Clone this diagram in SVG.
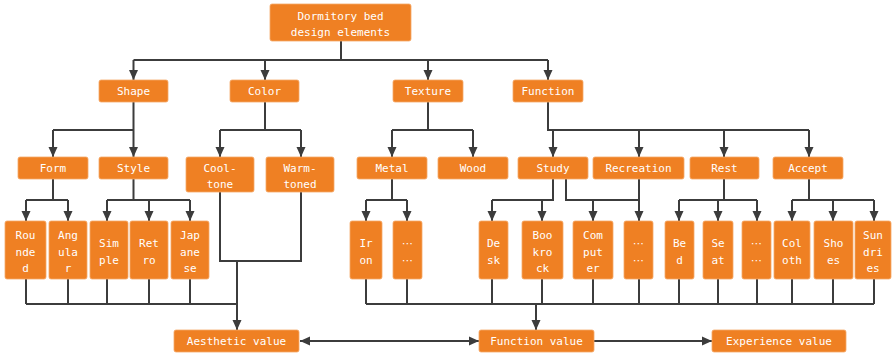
<svg xmlns="http://www.w3.org/2000/svg" width="892" height="357" viewBox="0 0 892 357">
<defs>
<style>
.b{fill:#EF8023;stroke:#F5A868;stroke-width:0.8}
.t{fill:#fff;font-family:"DejaVu Sans Mono","Liberation Mono",monospace;font-size:11px;text-anchor:middle}
.d{font-family:"DejaVu Sans","Liberation Sans",sans-serif}
.c{fill:none;stroke:#3C3C3C;stroke-width:2}
.a{marker-end:url(#ah)}
</style>
<marker id="ah" markerUnits="userSpaceOnUse" markerWidth="10" markerHeight="10" refX="10" refY="4.5" orient="auto-start-reverse" viewBox="0 0 10 9">
<path d="M0,0 L10,4.5 L0,9 z" fill="#3C3C3C"/>
</marker>
</defs>
<rect width="892" height="357" fill="#fff"/>
<g id="connectors">
<path class="c" d="M341,41 V60 M133.5,60 H548"/>
<path class="c a" d="M133.5,60 V80"/>
<path class="c a" d="M265,60 V80"/>
<path class="c a" d="M428,60 V80"/>
<path class="c a" d="M548,60 V80"/>
<path class="c" d="M133.5,102 V130 M53,130 H133.5"/>
<path class="c a" d="M53,130 V157"/>
<path class="c a" d="M133.5,130 V157"/>
<path class="c" d="M265,102 V130 M220,130 H301"/>
<path class="c a" d="M220,130 V157"/>
<path class="c a" d="M301,130 V157"/>
<path class="c" d="M428,102 V130 M392,130 H473"/>
<path class="c a" d="M392,130 V157"/>
<path class="c a" d="M473,130 V157"/>
<path class="c" d="M548,102 V130 H809"/>
<path class="c a" d="M553,130 V157"/>
<path class="c a" d="M639,130 V157"/>
<path class="c a" d="M724,130 V157"/>
<path class="c a" d="M809,130 V157"/>
<path class="c" d="M53,179 V200 M26,200 H68"/>
<path class="c a" d="M26,200 V221"/>
<path class="c a" d="M68,200 V221"/>
<path class="c" d="M133.5,179 V200 M107,200 H190"/>
<path class="c a" d="M107,200 V221"/>
<path class="c a" d="M149,200 V221"/>
<path class="c a" d="M190,200 V221"/>
<path class="c" d="M392,179 V200 M366,200 H407"/>
<path class="c a" d="M366,200 V221"/>
<path class="c a" d="M407,200 V221"/>
<path class="c" d="M553,179 V200 H492"/>
<path class="c a" d="M492,200 V221"/>
<path class="c a" d="M542,200 V221"/>
<path class="c" d="M566,179 V200 H639"/>
<path class="c a" d="M593,200 V221"/>
<path class="c a" d="M639,179 V221"/>
<path class="c" d="M724,179 V200 M679,200 H757"/>
<path class="c a" d="M679,200 V221"/>
<path class="c a" d="M718,200 V221"/>
<path class="c a" d="M757,200 V221"/>
<path class="c" d="M809,179 V200 M792,200 H874"/>
<path class="c a" d="M792,200 V221"/>
<path class="c a" d="M833,200 V221"/>
<path class="c a" d="M874,200 V221"/>
<path class="c" d="M26,279 V304 M68,279 V304 M107,279 V304 M149,279 V304 M190,279 V304 M26,304 H237"/>
<path class="c" d="M220,192 V261 H301 V192"/>
<path class="c a" d="M237,261 V330"/>
<path class="c" d="M366,279 V304 M407,279 V304 M492,279 V304 M542,279 V304 M593,279 V304 M639,279 V304 M679,279 V304 M718,279 V304 M757,279 V304 M792,279 V304 M833,279 V304 M874,279 V304 M366,304 H874"/>
<path class="c a" d="M536,304 V330"/>
<path class="c a" d="M300,341 H479" marker-start="url(#ah)"/>
<path class="c a" d="M594,341 H712"/>
</g>
<g id="root"><rect class="b" x="270" y="4" width="141" height="37" rx="2"/><text class="t" x="340.5" y="20">Dormitory bed</text><text class="t" x="340.5" y="36">design elements</text></g>
<g id="shape"><rect class="b" x="99" y="80" width="69" height="22" rx="2"/><text class="t" x="133.5" y="95">Shape</text></g>
<g id="color"><rect class="b" x="230" y="80" width="69" height="22" rx="2"/><text class="t" x="264.5" y="95">Color</text></g>
<g id="texture"><rect class="b" x="393" y="80" width="70" height="22" rx="2"/><text class="t" x="428" y="95">Texture</text></g>
<g id="function"><rect class="b" x="513" y="80" width="70" height="22" rx="2"/><text class="t" x="548" y="95">Function</text></g>
<g id="form"><rect class="b" x="18" y="157" width="70" height="22" rx="2"/><text class="t" x="53" y="172">Form</text></g>
<g id="style"><rect class="b" x="99" y="157" width="69" height="22" rx="2"/><text class="t" x="133.5" y="172">Style</text></g>
<g id="cooltone"><rect class="b" x="186" y="157" width="68" height="35" rx="2"/><text class="t" x="220" y="172">Cool-</text><text class="t" x="220" y="188">tone</text></g>
<g id="warmtoned"><rect class="b" x="266" y="157" width="68" height="35" rx="2"/><text class="t" x="300" y="172">Warm-</text><text class="t" x="300" y="188">toned</text></g>
<g id="metal"><rect class="b" x="357" y="157" width="70" height="22" rx="2"/><text class="t" x="392" y="172">Metal</text></g>
<g id="wood"><rect class="b" x="438" y="157" width="70" height="22" rx="2"/><text class="t" x="473" y="172">Wood</text></g>
<g id="study"><rect class="b" x="518" y="157" width="70" height="22" rx="2"/><text class="t" x="553" y="172">Study</text></g>
<g id="recreation"><rect class="b" x="593" y="157" width="91" height="22" rx="2"/><text class="t" x="638.5" y="172">Recreation</text></g>
<g id="rest"><rect class="b" x="690" y="157" width="69" height="22" rx="2"/><text class="t" x="724.5" y="172">Rest</text></g>
<g id="accept"><rect class="b" x="773" y="157" width="70" height="22" rx="2"/><text class="t" x="808" y="172">Accept</text></g>
<g id="rounded"><rect class="b" x="5" y="221" width="41" height="58" rx="2"/><text class="t" x="25.5" y="239">Rou</text><text class="t" x="25.5" y="256">nde</text><text class="t" x="25.5" y="272">d</text></g>
<g id="angular"><rect class="b" x="49" y="221" width="38" height="58" rx="2"/><text class="t" x="68" y="239">Ang</text><text class="t" x="68" y="256">ula</text><text class="t" x="68" y="272">r</text></g>
<g id="simple"><rect class="b" x="90" y="221" width="38" height="58" rx="2"/><text class="t" x="109" y="247">Sim</text><text class="t" x="109" y="264">ple</text></g>
<g id="retro"><rect class="b" x="130" y="221" width="38" height="58" rx="2"/><text class="t" x="149" y="247">Ret</text><text class="t" x="149" y="264">ro</text></g>
<g id="japanese"><rect class="b" x="171" y="221" width="38" height="58" rx="2"/><text class="t" x="190" y="239">Jap</text><text class="t" x="190" y="256">ane</text><text class="t" x="190" y="272">se</text></g>
<g id="iron"><rect class="b" x="350" y="221" width="32" height="58" rx="2"/><text class="t" x="366" y="247">Ir</text><text class="t" x="366" y="264">on</text></g>
<g id="metal-more"><rect class="b" x="393" y="221" width="29" height="58" rx="2"/><text class="t d" x="407.5" y="247">⋯</text><text class="t d" x="407.5" y="264">⋯</text></g>
<g id="desk"><rect class="b" x="479" y="221" width="29" height="58" rx="2"/><text class="t" x="493.5" y="247">De</text><text class="t" x="493.5" y="264">sk</text></g>
<g id="bookrock"><rect class="b" x="522" y="221" width="41" height="58" rx="2"/><text class="t" x="542.5" y="239">Boo</text><text class="t" x="542.5" y="256">kro</text><text class="t" x="542.5" y="272">ck</text></g>
<g id="computer"><rect class="b" x="573" y="221" width="40" height="58" rx="2"/><text class="t" x="593" y="239">Com</text><text class="t" x="593" y="256">put</text><text class="t" x="593" y="272">er</text></g>
<g id="recreation-more"><rect class="b" x="624" y="221" width="29" height="58" rx="2"/><text class="t d" x="638.5" y="247">⋯</text><text class="t d" x="638.5" y="264">⋯</text></g>
<g id="bed"><rect class="b" x="665" y="221" width="29" height="58" rx="2"/><text class="t" x="679.5" y="247">Be</text><text class="t" x="679.5" y="264">d</text></g>
<g id="seat"><rect class="b" x="703" y="221" width="30" height="58" rx="2"/><text class="t" x="718" y="247">Se</text><text class="t" x="718" y="264">at</text></g>
<g id="rest-more"><rect class="b" x="742" y="221" width="29" height="58" rx="2"/><text class="t d" x="756.5" y="247">⋯</text><text class="t d" x="756.5" y="264">⋯</text></g>
<g id="cloth"><rect class="b" x="774" y="221" width="36" height="58" rx="2"/><text class="t" x="792" y="247">Col</text><text class="t" x="792" y="264">oth</text></g>
<g id="shoes"><rect class="b" x="814" y="221" width="39" height="58" rx="2"/><text class="t" x="833.5" y="247">Sho</text><text class="t" x="833.5" y="264">es</text></g>
<g id="sundries"><rect class="b" x="855" y="221" width="36" height="58" rx="2"/><text class="t" x="873" y="239">Sun</text><text class="t" x="873" y="256">dri</text><text class="t" x="873" y="272">es</text></g>
<g id="aesthetic"><rect class="b" x="174" y="330" width="125" height="22" rx="2"/><text class="t" x="236.5" y="345">Aesthetic value</text></g>
<g id="functionvalue"><rect class="b" x="479" y="330" width="115" height="22" rx="2"/><text class="t" x="536.5" y="345">Function value</text></g>
<g id="experience"><rect class="b" x="712" y="330" width="134" height="22" rx="2"/><text class="t" x="779" y="345">Experience value</text></g>
</svg>
